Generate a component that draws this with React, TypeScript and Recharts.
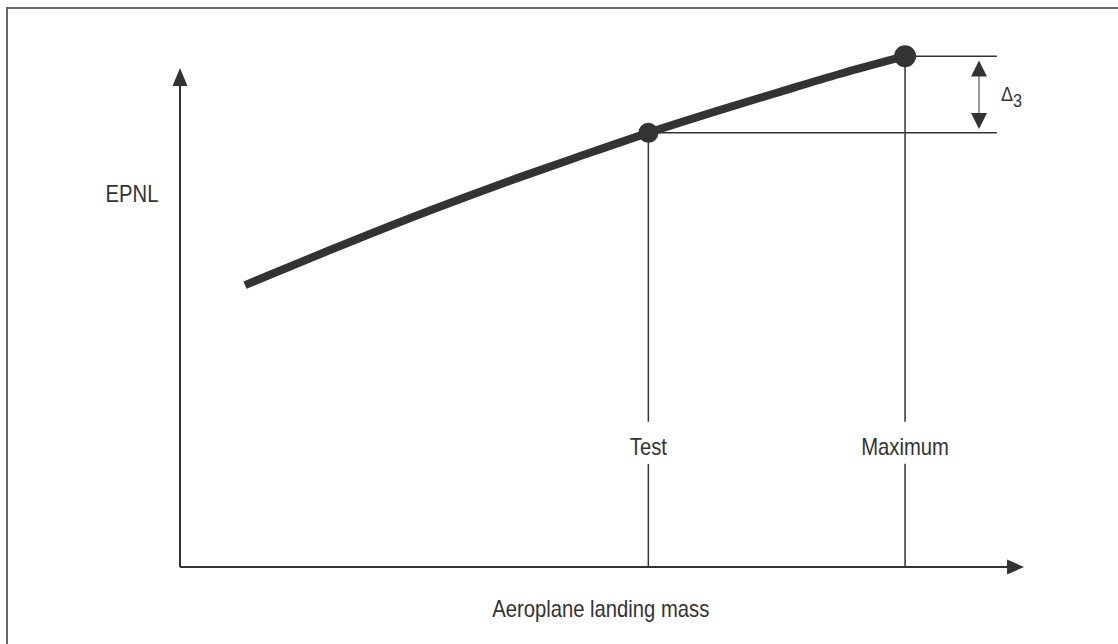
import React from "react";
import { ComposedChart, Line, XAxis, YAxis, ReferenceLine, ReferenceDot } from "recharts";

// Aeroplane landing mass (arbitrary units) and EPNL (arbitrary units)
const massValues = [7.65, 17.65, 25.9, 34.1, 40.0, 47.1, 55.1, 63.5, 70.6, 77.6, 85.3];
const epnlValues = [52.2, 58.7, 63.9, 68.8, 72.2, 76.1, 80.4, 84.6, 88.0, 91.3, 94.6];

const testPoint = { mass: 55.1, epnl: 80.4 };
const maxPoint = { mass: 85.3, epnl: 94.6 };

const guideEnd = 96.1; // right end of horizontal guide lines
const deltaX = 94.0; // position of delta arrow
const deltaTop = 93.8;
const deltaBottom = 81.1;
const xAxisEnd = 99.3;
const yAxisEnd = 92.4;
const labelGapLow = 19.1;
const labelGapHigh = 26.9;

const textLabels = [
  { text: "Test", x: 55.1, y: 20.7, anchor: "middle" },
  { text: "Maximum", x: 85.3, y: 20.7, anchor: "middle" },
  { text: "Aeroplane landing mass", x: 49.5, y: -9.3, anchor: "middle" },
  { text: "EPNL", x: -5.65, y: 67.6, anchor: "middle" },
];
const deltaLabel = { main: "Δ", sub: "3", x: 96.6, y: 86.3 };

const data = massValues.map((m, i) => ({ x: m, y: epnlValues[i] }));

const INK = "#333333";
const FONT = "'Liberation Sans Narrow', 'Arial Narrow', 'Liberation Sans', Arial, sans-serif";

const upHead = (p: any) => (
  <polygon points={`${p.cx},${p.cy} ${p.cx - 7.5},${p.cy + 18} ${p.cx + 7.5},${p.cy + 18}`} fill={INK} />
);
const rightHead = (p: any) => (
  <polygon points={`${p.cx},${p.cy} ${p.cx - 17},${p.cy - 7.5} ${p.cx - 17},${p.cy + 7.5}`} fill={INK} />
);
const smallUp = (p: any) => (
  <polygon points={`${p.cx},${p.cy} ${p.cx - 8},${p.cy + 16} ${p.cx + 8},${p.cy + 16}`} fill={INK} />
);
const smallDown = (p: any) => (
  <polygon points={`${p.cx},${p.cy} ${p.cx - 8},${p.cy - 16} ${p.cx + 8},${p.cy - 16}`} fill={INK} />
);

export default function App() {
  return (
    <div style={{ position: "absolute", left: 0, top: 0, width: 1118, height: 644, background: "#fff" }}>
      <div
        style={{
          position: "absolute",
          left: 6,
          top: 7,
          width: 1112,
          height: 637,
          borderTop: "2px solid #666",
          borderLeft: "2px solid #666",
          boxSizing: "border-box",
        }}
      />
      <ComposedChart
        width={1118}
        height={644}
        data={data}
        margin={{ top: 27, right: 88, bottom: 77, left: 180 }}
        style={{ position: "absolute", left: 0, top: 0 }}
      >
        <XAxis type="number" dataKey="x" domain={[0, 100]} hide allowDataOverflow />
        <YAxis type="number" domain={[0, 100]} hide allowDataOverflow />

        {/* axes */}
        <ReferenceLine segment={[{ x: 0, y: 0 }, { x: xAxisEnd - 1, y: 0 }]} stroke={INK} strokeWidth={2} ifOverflow="visible" />
        <ReferenceLine segment={[{ x: 0, y: 0 }, { x: 0, y: yAxisEnd - 1 }]} stroke={INK} strokeWidth={2} ifOverflow="visible" />
        <ReferenceDot x={0} y={yAxisEnd} r={1} shape={upHead} ifOverflow="visible" />
        <ReferenceDot x={xAxisEnd} y={0} r={1} shape={rightHead} ifOverflow="visible" />

        {/* vertical guides with gaps for labels */}
        <ReferenceLine segment={[{ x: testPoint.mass, y: 0 }, { x: testPoint.mass, y: labelGapLow }]} stroke={INK} strokeWidth={1.5} ifOverflow="visible" />
        <ReferenceLine segment={[{ x: testPoint.mass, y: labelGapHigh }, { x: testPoint.mass, y: testPoint.epnl }]} stroke={INK} strokeWidth={1.5} ifOverflow="visible" />
        <ReferenceLine segment={[{ x: maxPoint.mass, y: 0 }, { x: maxPoint.mass, y: labelGapLow }]} stroke={INK} strokeWidth={1.5} ifOverflow="visible" />
        <ReferenceLine segment={[{ x: maxPoint.mass, y: labelGapHigh }, { x: maxPoint.mass, y: maxPoint.epnl }]} stroke={INK} strokeWidth={1.5} ifOverflow="visible" />

        {/* horizontal guides */}
        <ReferenceLine segment={[{ x: testPoint.mass, y: testPoint.epnl }, { x: guideEnd, y: testPoint.epnl }]} stroke={INK} strokeWidth={1.5} ifOverflow="visible" />
        <ReferenceLine segment={[{ x: maxPoint.mass, y: maxPoint.epnl }, { x: guideEnd, y: maxPoint.epnl }]} stroke={INK} strokeWidth={1.5} ifOverflow="visible" />

        {/* delta arrow */}
        <ReferenceLine segment={[{ x: deltaX, y: deltaBottom + 1 }, { x: deltaX, y: deltaTop - 1 }]} stroke="#777" strokeWidth={1.5} ifOverflow="visible" />
        <ReferenceDot x={deltaX} y={deltaTop} r={1} shape={smallUp} ifOverflow="visible" />
        <ReferenceDot x={deltaX} y={deltaBottom} r={1} shape={smallDown} ifOverflow="visible" />

        <Line
          type="monotone"
          dataKey="y"
          stroke={INK}
          strokeWidth={8}
          dot={false}
          activeDot={false}
          isAnimationActive={false}
        />

        <ReferenceDot x={testPoint.mass} y={testPoint.epnl} r={10} fill={INK} stroke="none" ifOverflow="visible" />
        <ReferenceDot x={maxPoint.mass} y={maxPoint.epnl} r={11} fill={INK} stroke="none" ifOverflow="visible" />

        {textLabels.map((l) => (
          <ReferenceDot
            key={l.text}
            x={l.x}
            y={l.y}
            r={1}
            ifOverflow="visible"
            shape={(p: any) => (
              <text
                x={0}
                y={0}
                transform={`translate(${p.cx},${p.cy}) scale(0.88,1)`}
                textAnchor={l.anchor as any}
                fontFamily={FONT}
                fontSize={23}
                fill={INK}
              >
                {l.text}
              </text>
            )}
          />
        ))}
        <ReferenceDot
          x={deltaLabel.x}
          y={deltaLabel.y}
          r={1}
          ifOverflow="visible"
          shape={(p: any) => (
            <text x={0} y={0} transform={`translate(${p.cx},${p.cy}) scale(0.9,1)`} fontFamily={FONT} fill={INK}>
              <tspan fontSize={20}>{deltaLabel.main}</tspan>
              <tspan fontSize={18} dy={6}>{deltaLabel.sub}</tspan>
            </text>
          )}
        />
      </ComposedChart>
    </div>
  );
}
